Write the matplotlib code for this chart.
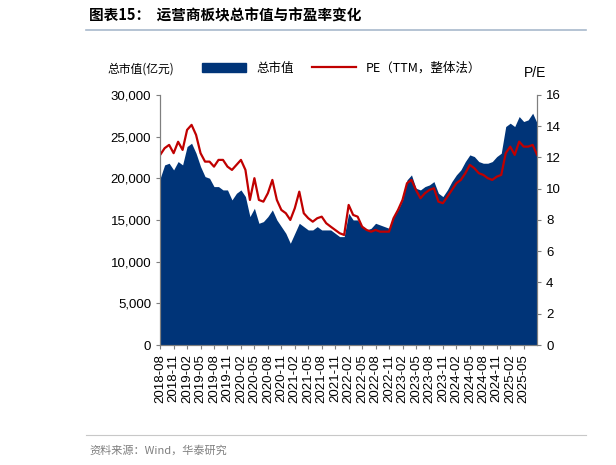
import numpy as np
import matplotlib
matplotlib.use("Agg")
import matplotlib.pyplot as plt
from matplotlib.lines import Line2D

plt.rcParams['font.family'] = ['Noto Sans CJK SC', 'DejaVu Sans']

# 月度数据 2018-08 ~ 2025-08
market_cap = [20000, 21600, 21800, 21000, 22000, 21600, 23800, 24200, 23000, 21400,
              20200, 20000, 19000, 19000, 18600, 18600, 17400, 18200, 18600, 17800,
              15400, 16400, 14600, 14800, 15400, 16200, 15000, 14200, 13400, 12200,
              13400, 14600, 14200, 13800, 13800, 14200, 13800, 13800, 13800, 13400,
              13000, 13000, 15800, 15000, 15000, 14200, 13800, 14000, 14600, 14400,
              14200, 14000, 15400, 16200, 17400, 19800, 20400, 18800, 18600, 19000,
              19200, 19600, 18200, 17800, 18600, 19600, 20400, 21000, 22000, 22800,
              22600, 22000, 21800, 21800, 22000, 22600, 23000, 26200, 26600, 26200,
              27400, 26800, 27000, 27800, 26600]
pe = [12.16, 12.59, 12.8, 12.27, 13.0, 12.48, 13.76, 14.08, 13.44, 12.27,
      11.73, 11.73, 11.41, 11.84, 11.84, 11.41, 11.2, 11.52, 11.84, 11.2,
      9.28, 10.67, 9.28, 9.17, 9.71, 10.56, 9.28, 8.64, 8.43, 8.0,
      8.75, 9.81, 8.43, 8.11, 7.89, 8.11, 8.21, 7.79, 7.57, 7.36,
      7.15, 7.04, 8.96, 8.32, 8.21, 7.57, 7.36, 7.25, 7.36, 7.25,
      7.25, 7.25, 8.11, 8.64, 9.28, 10.35, 10.56, 9.92, 9.39, 9.71,
      9.92, 10.03, 9.17, 9.07, 9.49, 9.92, 10.35, 10.56, 10.99, 11.52,
      11.31, 10.99, 10.88, 10.67, 10.56, 10.77, 10.88, 12.27, 12.69, 12.16,
      13.01, 12.69, 12.69, 12.8, 12.16]
tick_labels = [f"{2018 + (7 + k) // 12}-{(7 + k) % 12 + 1:02d}" for k in range(0, 84, 3)]

NAVY, RED, GRAY = "#003478", "#c00000", "#7f7f7f"
x = np.arange(len(market_cap))

fig = plt.figure(figsize=(6.16, 4.65), dpi=100)
ax = fig.add_axes([0.26, 0.258, 0.612, 0.538])
ax.fill_between(x, market_cap, 0, color=NAVY, lw=0)
ax.set_xlim(0, len(x) - 1)
ax.set_ylim(0, 30000)
ax.set_yticks(range(0, 30001, 5000))
ax.set_yticklabels([f"{v:,}" for v in range(0, 30001, 5000)], fontsize=9.5, family="Liberation Sans")
ax.set_xticks(range(0, 84, 3))
ax.set_xticklabels(tick_labels, rotation=90, fontsize=9.5, family="Liberation Sans")

ax2 = ax.twinx()
ax2.plot(x, pe, color=RED, lw=1.6)
ax2.set_ylim(0, 16)
ax2.set_yticks(range(0, 17, 2))
ax2.set_yticklabels([str(v) for v in range(0, 17, 2)], fontsize=9.5, family="Liberation Sans")

for a in (ax, ax2):
    for s in ("top",):
        a.spines[s].set_visible(False)
    a.spines["left"].set_color(GRAY)
    a.spines["right"].set_color(GRAY)
    a.spines["bottom"].set_color(GRAY)
    a.tick_params(color=GRAY, length=3)

fig.text(0.175, 0.845, "总市值(亿元)", fontsize=8.5)
fig.text(0.85, 0.835, "P/E", fontsize=10, family="Liberation Sans")
handles = [plt.Rectangle((0, 0), 1, 1, color=NAVY), Line2D([], [], color=RED, lw=1.6)]
fig.legend(handles, ["总市值", "PE（TTM，整体法）"], loc="center left", bbox_to_anchor=(0.31, 0.853),
           ncol=2, frameon=False, fontsize=9, handlelength=3.5, columnspacing=1.5)

fig.text(0.145, 0.955, "图表15：  运营商板块总市值与市盈率变化", fontsize=10.5, fontweight="bold")
fig.add_artist(Line2D([0.14, 0.952], [0.935, 0.935], color="#a8b9cc", lw=1.2))
fig.add_artist(Line2D([0.14, 0.952], [0.065, 0.065], color="#c8c8c8", lw=0.8))
fig.text(0.145, 0.025, "资料来源：Wind，华泰研究", fontsize=8, color=GRAY)

fig.savefig("out.png")
